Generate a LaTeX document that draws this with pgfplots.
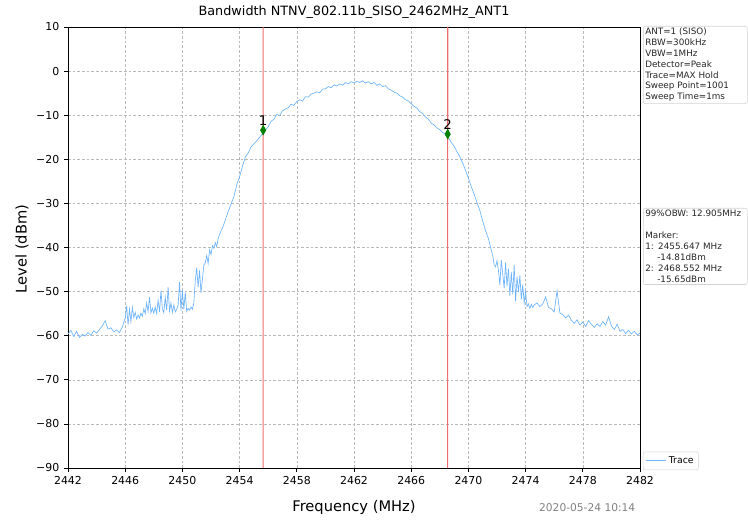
\documentclass[border=0pt]{standalone}
\usepackage{fontspec}
\setmainfont{DejaVu Sans}
\usepackage{pgfplots}
\pgfplotsset{compat=1.18}
\definecolor{tracecol}{RGB}{110,180,250}
\definecolor{markline}{RGB}{238,110,110}
\definecolor{mgreen}{RGB}{0,128,0}
\begin{document}
\begin{tikzpicture}
\useasboundingbox (0,0) rectangle (561pt,392.25pt);
\begin{axis}[
  at={(51pt,41.25pt)}, anchor=south west,
  scale only axis, width=429pt, height=330.75pt,
  xmin=2442, xmax=2482, ymin=-90, ymax=10,
  xtick={2442,2446,...,2482},
  ytick={-90,-80,...,10},
  yticklabels={−90,−80,−70,−60,−50,−40,−30,−20,−10,0,10},
  /pgf/number format/assume math mode=true,
  /pgf/number format/set thousands separator={},
  tick label style={font=\fontsize{8.2}{10}\selectfont},
  tick align=outside, xtick pos=bottom, ytick pos=left,
  major tick length=3pt,
  tick style={black, line width=0.5pt},
  axis line style={black, line width=0.6pt},
  grid=major,
  major grid style={gray!55, dash pattern=on 2pt off 1.5pt, line width=0.4pt},
  legend style={at={(1.005,-0.005)}, anchor=south west, font=\fontsize{7}{8}\selectfont,
    draw=gray!35, rounded corners=1.5pt, inner sep=1.5pt},
  legend cell align=left,
  legend image code/.code={\draw[#1, draw=tracecol, line width=0.8pt] (0pt,0pt) -- (15pt,0pt);},
]
\addplot[color=tracecol, line width=0.5pt] coordinates {
(2442.0,-59.6) (2442.2,-58.8) (2442.4,-60.2) (2442.6,-59.0) (2442.8,-60.4) (2443.0,-59.7)
(2443.2,-60.1) (2443.4,-59.3) (2443.6,-59.9) (2443.8,-58.9) (2444.0,-59.4) (2444.2,-58.6)
(2444.4,-57.8) (2444.6,-56.6) (2444.8,-58.5) (2445.0,-58.2) (2445.2,-59.1) (2445.4,-58.7)
(2445.6,-59.3) (2445.8,-58.0) (2446.0,-56.0) (2446.1,-53.2) (2446.2,-57.5) (2446.3,-54.0)
(2446.4,-56.8) (2446.5,-53.6) (2446.6,-55.9) (2446.7,-54.7) (2446.8,-56.2) (2446.9,-55.3)
(2447.0,-56.0) (2447.1,-54.9) (2447.2,-55.6) (2447.3,-53.9) (2447.4,-55.0) (2447.5,-52.6)
(2447.6,-54.5) (2447.7,-51.2) (2447.8,-54.8) (2447.9,-53.8) (2448.0,-54.9) (2448.1,-53.5)
(2448.2,-55.0) (2448.3,-52.0) (2448.4,-54.6) (2448.5,-49.8) (2448.6,-53.9) (2448.7,-54.8)
(2448.8,-51.3) (2448.9,-54.2) (2449.0,-49.0) (2449.1,-54.4) (2449.2,-52.6) (2449.3,-54.7)
(2449.4,-53.0) (2449.5,-54.6) (2449.6,-54.0) (2449.7,-53.1) (2449.8,-47.8) (2449.9,-54.3)
(2450.0,-49.6) (2450.1,-54.0) (2450.2,-50.2) (2450.3,-54.5) (2450.4,-53.8) (2450.5,-54.2)
(2450.6,-53.5) (2450.7,-54.0) (2450.8,-52.6) (2450.9,-47.5) (2451.0,-44.6) (2451.1,-49.0)
(2451.2,-45.2) (2451.3,-50.3) (2451.4,-47.2) (2451.5,-44.0) (2451.6,-43.5) (2451.7,-41.8)
(2451.8,-43.6) (2451.9,-40.5) (2452.0,-41.6) (2452.1,-39.6) (2452.2,-40.2) (2452.3,-38.9)
(2452.4,-39.8) (2452.5,-38.0) (2452.6,-37.0) (2452.8,-35.6) (2453.0,-33.8) (2453.2,-31.9)
(2453.4,-30.2) (2453.6,-28.5) (2453.8,-25.8) (2454.0,-23.9) (2454.2,-21.6) (2454.4,-19.5)
(2454.6,-18.6) (2454.8,-17.2) (2455.0,-16.5) (2455.2,-15.8) (2455.4,-15.0) (2455.6,-14.2)
(2455.8,-13.4) (2456.0,-12.6) (2456.2,-11.4) (2456.4,-10.9) (2456.6,-9.8) (2456.8,-10.1)
(2457.0,-9.0) (2457.2,-8.6) (2457.4,-8.3) (2457.6,-7.5) (2457.8,-7.8) (2458.0,-6.9)
(2458.2,-6.5) (2458.4,-6.8) (2458.6,-5.8) (2458.8,-5.9) (2459.0,-5.2) (2459.2,-5.0)
(2459.4,-4.7) (2459.6,-4.9) (2459.8,-4.1) (2460.0,-4.0) (2460.2,-3.5) (2460.4,-3.8)
(2460.6,-3.1) (2460.8,-3.4) (2461.0,-2.9) (2461.2,-3.2) (2461.4,-2.6) (2461.6,-2.9)
(2461.8,-2.4) (2462.0,-2.7) (2462.2,-2.3) (2462.4,-2.6) (2462.6,-2.2) (2462.8,-2.7)
(2463.0,-2.4) (2463.2,-2.9) (2463.4,-2.6) (2463.6,-3.2) (2463.8,-2.9) (2464.0,-3.5)
(2464.2,-3.3) (2464.4,-4.0) (2464.6,-4.3) (2464.8,-4.8) (2465.0,-5.0) (2465.2,-5.6)
(2465.4,-5.9) (2465.6,-6.5) (2465.8,-6.8) (2466.0,-7.4) (2466.2,-8.0) (2466.4,-8.4)
(2466.6,-9.2) (2466.8,-9.6) (2467.0,-10.4) (2467.2,-10.9) (2467.4,-11.8) (2467.6,-12.2)
(2467.8,-12.9) (2468.0,-13.3) (2468.2,-13.9) (2468.4,-14.3) (2468.6,-15.0) (2468.8,-16.2)
(2469.0,-17.0) (2469.2,-18.3) (2469.4,-19.4) (2469.6,-20.8) (2469.8,-22.5) (2470.0,-24.3)
(2470.2,-26.2) (2470.4,-27.9) (2470.6,-29.8) (2470.8,-31.6) (2471.0,-34.0) (2471.2,-36.2)
(2471.4,-38.0) (2471.6,-40.6) (2471.7,-41.8) (2471.8,-43.9) (2471.9,-44.4) (2472.0,-43.0)
(2472.1,-45.2) (2472.2,-48.5) (2472.3,-42.8) (2472.4,-46.0) (2472.5,-49.2) (2472.6,-43.4)
(2472.7,-48.8) (2472.8,-44.8) (2472.9,-51.0) (2473.0,-45.6) (2473.1,-50.6) (2473.2,-44.0)
(2473.3,-52.2) (2473.4,-46.6) (2473.5,-50.1) (2473.6,-46.3) (2473.7,-51.8) (2473.8,-48.4)
(2473.9,-52.6) (2474.0,-50.0) (2474.1,-53.4) (2474.2,-52.8) (2474.3,-53.8) (2474.4,-52.9)
(2474.5,-53.6) (2474.6,-53.0) (2474.8,-52.6) (2475.0,-53.4) (2475.2,-52.8) (2475.4,-51.2)
(2475.6,-53.6) (2475.8,-53.9) (2476.0,-54.6) (2476.2,-49.8) (2476.4,-54.9) (2476.6,-55.2)
(2476.8,-56.0) (2477.0,-55.3) (2477.2,-56.5) (2477.4,-57.2) (2477.6,-56.4) (2477.8,-57.6)
(2478.0,-56.9) (2478.2,-57.9) (2478.4,-56.6) (2478.6,-57.4) (2478.8,-58.1) (2479.0,-57.3)
(2479.2,-57.9) (2479.4,-56.8) (2479.6,-57.6) (2479.8,-55.7) (2480.0,-57.8) (2480.2,-58.6)
(2480.4,-57.4) (2480.6,-59.0) (2480.8,-58.6) (2481.0,-59.5) (2481.2,-58.8) (2481.4,-59.6)
(2481.6,-59.0) (2481.8,-59.8) (2482.0,-59.4)
};
\addlegendentry{Trace}
\addplot[draw=markline, line width=0.8pt, mark=none] coordinates {(2455.645,-90) (2455.649,10)};
\addplot[draw=markline, line width=0.8pt, mark=none] coordinates {(2468.550,-90) (2468.554,10)};
\addplot[only marks, mark=diamond*, mark size=3.6pt,
  mark options={draw=mgreen, fill=mgreen, solid, xscale=0.75},
  point meta=explicit symbolic, nodes near coords,
  nodes near coords style={text=black, font=\fontsize{10}{12}\selectfont, anchor=south, inner sep=0.5pt, yshift=3pt}]
  coordinates {(2455.647,-13.4) [1] (2468.552,-14.3) [2]};
\end{axis}
\begin{scope}[x=0.75pt, y=-0.75pt, shift={(0pt,392.25pt)}]
  \node[font=\fontsize{9.6}{11}\selectfont] at (354,12) {Bandwidth NTNV\_802.11b\_SISO\_2462MHz\_ANT1};
  \node[font=\fontsize{11}{13}\selectfont] at (354,507) {Frequency (MHz)};
  \node[font=\fontsize{11}{13}\selectfont, rotate=90] at (22,249) {Level (dBm)};
  \node[font=\fontsize{8}{10}\selectfont, text=gray, anchor=east] at (640,508) {2020-05-24 10:14};
  \node[anchor=north west, draw=gray!35, rounded corners=1.5pt, inner sep=1.5pt,
    text width=75pt, align=left, text=black!85,
    font=\fontsize{6.6}{8.1}\selectfont] at (643,26)
    {ANT=1 (SISO)\\RBW=300kHz\\VBW=1MHz\\Detector=Peak\\Trace=MAX Hold\\Sweep Point=1001\\Sweep Time=1ms};
  \node[anchor=north west, draw=gray!35, rounded corners=1.5pt, inner sep=1.5pt,
    text width=75pt, align=left, text=black!85,
    font=\fontsize{6.6}{8.2}\selectfont] at (643,208)
    {\mbox{99\%OBW: 12.905MHz}\\[8.2pt]Marker:\\1: 2455.647 MHz\\\hspace*{9pt}-14.81dBm\\2: 2468.552 MHz\\\hspace*{9pt}-15.65dBm};
\end{scope}
\end{tikzpicture}
\end{document}
